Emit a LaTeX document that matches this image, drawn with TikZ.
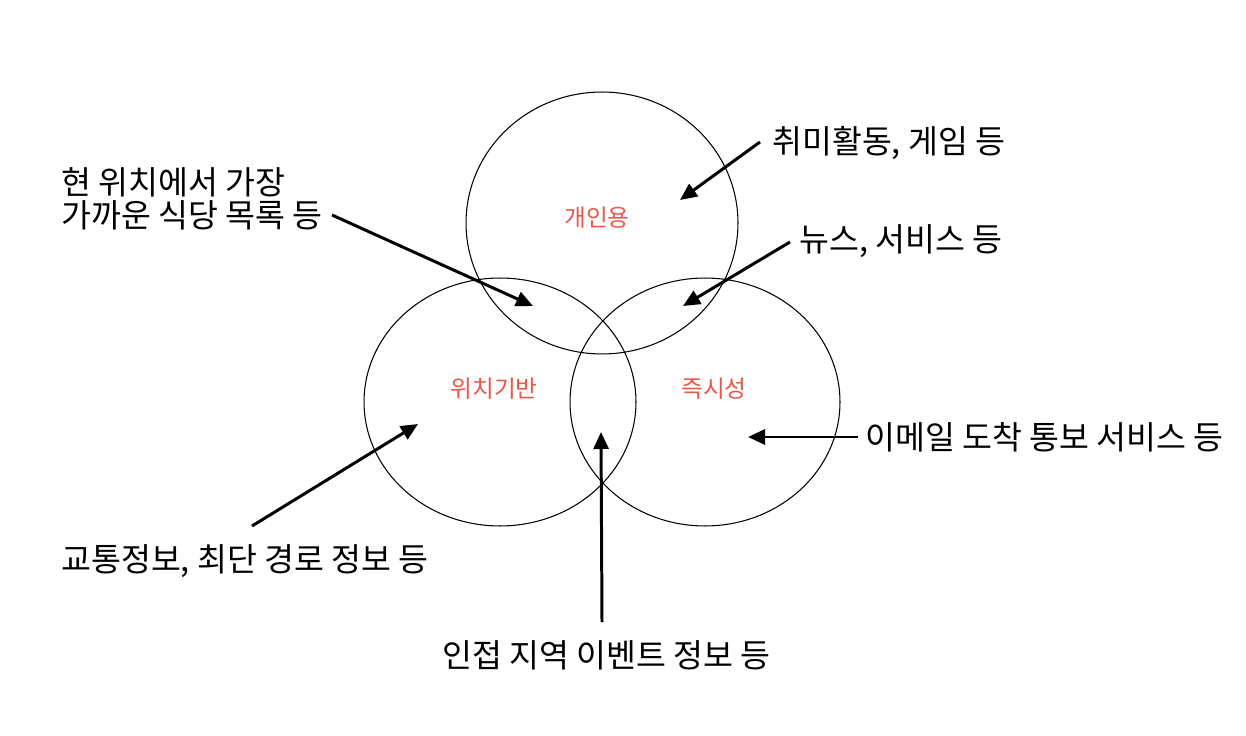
\documentclass[tikz,border=0pt]{standalone}
\usepackage{fontspec}
\newfontfamily\kr{Noto Sans CJK KR}
\usetikzlibrary{shapes.geometric,arrows.meta}
\definecolor{kred}{RGB}{235,87,74}

\begin{document}
\begin{tikzpicture}[
  x=0.02cm, y=-0.02cm,
  area/.style={ellipse, draw, line width=0.6pt, inner sep=0pt},
  arealabel/.style={text=kred, font=\kr\fontsize{13.5}{16}\selectfont},
  note/.style={anchor=west, align=left, inner sep=0pt, font=\kr\fontsize{18.5}{18.8}\selectfont},
  pointer/.style={draw, line width=1.7pt, -{Triangle[length=3.4mm,width=3mm]}}
]
\useasboundingbox (0,0) rectangle (1246,736);
% circles
\node[area, minimum width=5.44cm, minimum height=5.24cm] (personal) at (602,223) {};
\node[area, minimum width=5.44cm, minimum height=4.96cm] (location) at (500,402) {};
\node[area, minimum width=5.40cm, minimum height=4.96cm] (instant) at (705,402) {};
\node[arealabel] (lpersonal) at (597,218) {개인용};
\node[arealabel] (llocation) at (494,389) {위치기반};
\node[arealabel] (linstant) at (714,389) {즉시성};

% notes
\node[note] (hobby) at (772,143) {취미활동, 게임 등};
\node[note] (near) at (61,199) {현 위치에서 가장\\가까운 식당 목록 등};
\node[note] (news) at (799,241) {뉴스, 서비스 등};
\node[note] (mail) at (865,437) {이메일 도착 통보 서비스 등};
\node[note] (traffic) at (61,561) {교통정보, 최단 경로 정보 등};
\node[note] (event) at (442,655) {인접 지역 이벤트 정보 등};

% arrows
\coordinate (s1) at (760,142); \coordinate (e1) at (680,200);
\coordinate (s2) at (332,215); \coordinate (e2) at (533,306);
\coordinate (s3) at (790,242); \coordinate (e3) at (683,306);
\coordinate (s4) at (858,437); \coordinate (e4) at (748,437);
\coordinate (s5) at (252,526); \coordinate (e5) at (418,424);
\coordinate (s6) at (602,622); \coordinate (e6) at (601,432);
\draw[pointer] (s1) -- (e1);
\draw[pointer] (s2) -- (e2);
\draw[pointer] (s3) -- (e3);
\draw[pointer] (s4) -- (e4);
\draw[pointer] (s5) -- (e5);
\draw[pointer] (s6) -- (e6);
\end{tikzpicture}
\end{document}
